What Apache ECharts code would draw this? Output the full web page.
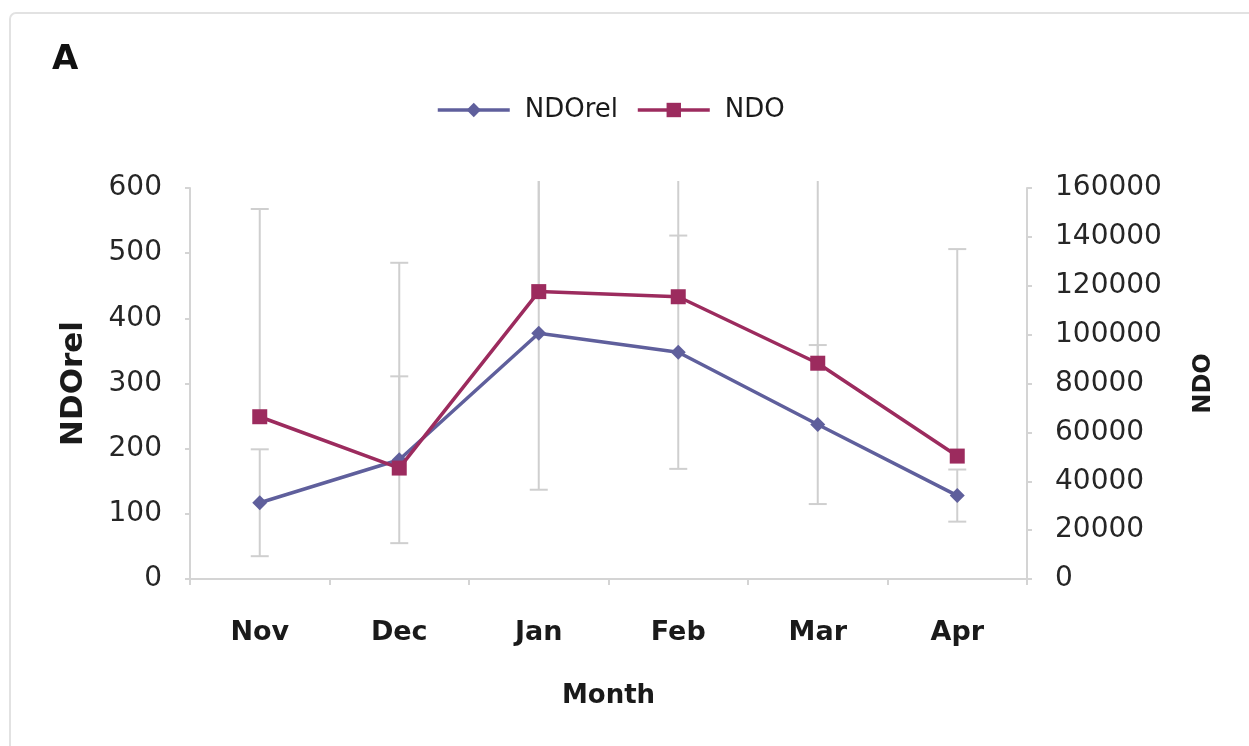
<!DOCTYPE html>
<html>
<head>
<meta charset="utf-8">
<script src="https://cdn.jsdelivr.net/npm/echarts@6/dist/echarts.min.js"></script>
<style>
  html, body { margin: 0; padding: 0; background: #ffffff; }
  #chart { width: 1249px; height: 746px; }
</style>
</head>
<body>
<div id="chart"></div>
<script>
// Monthly NDOrel (left axis) and NDO (right axis) with error bars
const months = ['Nov', 'Dec', 'Jan', 'Feb', 'Mar', 'Apr'];
const ndoRel = [117, 183, 377, 348, 237, 128];
const ndoRelErr = [82, 128, 240, 179, 122, 40];
const ndo = [66400, 45400, 117600, 115500, 88300, 50300];
const ndoErrPlus = [85000, 84000, 85000, 85000, 85000, 84700];
const leftTicks = { min: 0, max: 600, interval: 100 };
const rightTicks = { min: 0, max: 160000, interval: 20000 };

const FONT = '"DejaVu Sans", "Noto Sans", sans-serif';
const blue = '#5f5f9c';
const red = '#9c2b5e';
const barGrey = '#cfcfcf';
const axisGrey = '#d4d4d4';

// error bar rows: [categoryIndex, low, high]
const relBars = months.map((m, i) => [i, ndoRel[i] - ndoRelErr[i], ndoRel[i] + ndoRelErr[i]]);
const ndoBars = months.map((m, i) => [i, ndo[i], ndo[i] + ndoErrPlus[i]]);

function errorBarRenderer(axisMin, axisMax, capLow, capHigh) {
  return function (params, api) {
    const x = api.value(0);
    const lo = api.value(1), hi = api.value(2);
    const loC = Math.max(lo, axisMin), hiC = Math.min(hi, axisMax);
    const pLo = api.coord([x, loC]);
    const pHi = api.coord([x, hiC]);
    const half = 9;
    const children = [{
      type: 'line',
      shape: { x1: pLo[0], y1: pLo[1], x2: pHi[0], y2: pHi[1] - (hi > axisMax ? 7 : 0) },
      style: { stroke: barGrey, lineWidth: 2 }
    }];
    if (capHigh && hi <= axisMax) {
      children.push({ type: 'line', shape: { x1: pHi[0] - half, y1: pHi[1], x2: pHi[0] + half, y2: pHi[1] },
        style: { stroke: barGrey, lineWidth: 2 } });
    }
    if (capLow && lo >= axisMin) {
      children.push({ type: 'line', shape: { x1: pLo[0] - half, y1: pLo[1], x2: pLo[0] + half, y2: pLo[1] },
        style: { stroke: barGrey, lineWidth: 2 } });
    }
    return { type: 'group', children: children };
  };
}

const chart = echarts.init(document.getElementById('chart'), null, { renderer: 'canvas' });

chart.setOption({
  backgroundColor: '#ffffff',
  animation: false,
  textStyle: { fontFamily: FONT },
  graphic: [{
    type: 'rect',
    shape: { x: 10, y: 13, width: 1260, height: 760, r: 6 },
    style: { fill: 'none', stroke: '#e2e2e2', lineWidth: 2 },
    silent: true
  }],
  title: {
    text: 'A',
    left: 47, top: 38,
    textStyle: { fontFamily: FONT, fontSize: 34, fontWeight: 'bold', color: '#111' }
  },
  legend: {
    top: 92, left: 431,
    itemWidth: 72, itemHeight: 18, itemGap: 18,
    lineStyle: { width: 3.5 },
    textStyle: { fontFamily: FONT, fontSize: 26, color: '#1a1a1a', padding: [0, 0, 0, 10] },
    data: ['NDOrel', 'NDO']
  },
  grid: { left: 190, right: 222, top: 188, bottom: 167 },
  xAxis: {
    type: 'category',
    data: months,
    boundaryGap: true,
    name: 'Month',
    nameLocation: 'middle',
    nameGap: 104,
    nameTextStyle: { fontFamily: FONT, fontSize: 26, fontWeight: 'bold', color: '#1a1a1a' },
    axisLine: { lineStyle: { color: axisGrey, width: 2 } },
    axisTick: { show: true, length: 6, lineStyle: { color: axisGrey, width: 2 } },
    axisLabel: { fontFamily: FONT, fontSize: 27, fontWeight: 'bold', color: '#1a1a1a', margin: 40 },
    splitLine: { show: false }
  },
  yAxis: [{
    type: 'value',
    min: leftTicks.min, max: leftTicks.max, interval: leftTicks.interval,
    name: 'NDOrel',
    nameLocation: 'middle',
    nameRotate: 90,
    nameGap: 101,
    nameTextStyle: { fontFamily: FONT, fontSize: 31, fontWeight: 'bold', color: '#1a1a1a' },
    axisLine: { show: true, lineStyle: { color: axisGrey, width: 2 } },
    axisTick: { show: true, length: 5, lineStyle: { color: axisGrey, width: 2 } },
    axisLabel: { fontFamily: FONT, fontSize: 28, color: '#262626', margin: 28 },
    splitLine: { show: false }
  }, {
    type: 'value',
    min: rightTicks.min, max: rightTicks.max, interval: rightTicks.interval,
    name: 'NDO',
    nameLocation: 'middle',
    nameRotate: 90,
    nameGap: 165,
    nameTextStyle: { fontFamily: FONT, fontSize: 24, fontWeight: 'bold', color: '#1a1a1a' },
    axisLine: { show: true, lineStyle: { color: axisGrey, width: 2 } },
    axisTick: { show: true, length: 5, lineStyle: { color: axisGrey, width: 2 } },
    axisLabel: { fontFamily: FONT, fontSize: 28, color: '#262626', margin: 28,
      formatter: v => String(v) },
    splitLine: { show: false }
  }],
  series: [{
    type: 'custom',
    name: 'NDOrel error',
    yAxisIndex: 0,
    z: 1,
    silent: true,
    renderItem: errorBarRenderer(leftTicks.min, leftTicks.max, true, true),
    encode: { x: 0, y: [1, 2] },
    data: relBars
  }, {
    type: 'custom',
    name: 'NDO error',
    yAxisIndex: 1,
    z: 1,
    silent: true,
    renderItem: errorBarRenderer(rightTicks.min, rightTicks.max, false, true),
    encode: { x: 0, y: [1, 2] },
    data: ndoBars
  }, {
    type: 'line',
    name: 'NDOrel',
    yAxisIndex: 0,
    z: 3,
    data: ndoRel,
    symbol: 'diamond',
    symbolSize: 15,
    itemStyle: { color: blue },
    lineStyle: { color: blue, width: 3.5 }
  }, {
    type: 'line',
    name: 'NDO',
    yAxisIndex: 1,
    z: 4,
    data: ndo,
    symbol: 'rect',
    symbolSize: 15,
    itemStyle: { color: red },
    lineStyle: { color: red, width: 3.5 }
  }]
});
</script>
</body>
</html>
